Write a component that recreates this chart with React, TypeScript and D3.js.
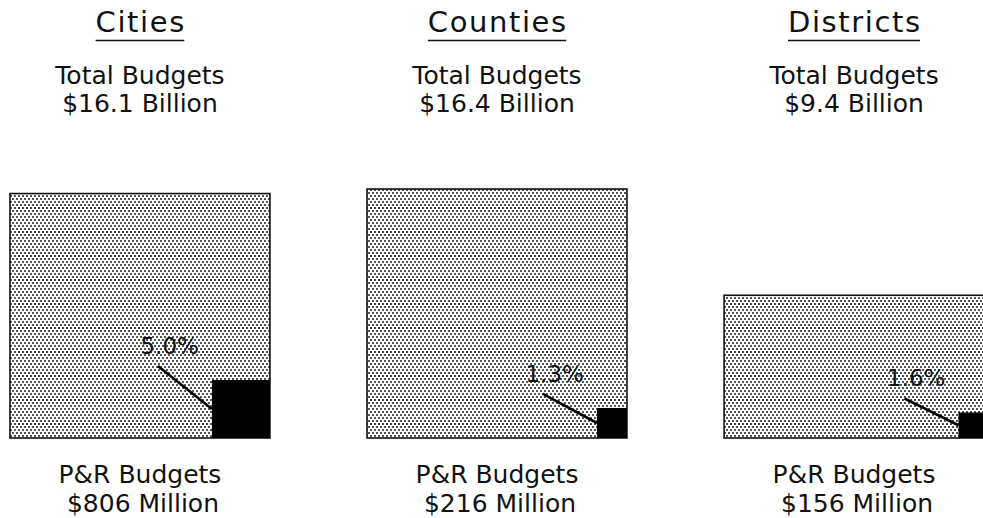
import React, { useEffect, useRef } from "react";
import * as d3 from "d3";

const categories = ["Cities", "Counties", "Districts"];
const totalBudgets = [16.1, 16.4, 9.4]; // $ billions
const totalLabels = ["$16.1 Billion", "$16.4 Billion", "$9.4 Billion"];
const prBudgets = [806, 216, 156]; // $ millions
const prLabels = ["$806 Million", "$216 Million", "$156 Million"];
const percentLabels = ["5.0%", "1.3%", "1.6%"];

const W = 983;
const H = 518;
const FONT = "'DejaVu Sans', 'Liberation Sans', sans-serif";

export default function App() {
  const ref = useRef<SVGSVGElement>(null);

  useEffect(() => {
    const svg = d3.select(ref.current);
    svg.selectAll("*").remove();

    const defs = svg.append("defs");
    const pat = defs
      .append("pattern")
      .attr("id", "halftone")
      .attr("patternUnits", "userSpaceOnUse")
      .attr("width", 4)
      .attr("height", 6);
    pat.append("rect").attr("width", 4).attr("height", 6).attr("fill", "#fff");
    pat.append("rect").attr("x", 0).attr("y", 0).attr("width", 2).attr("height", 2).attr("fill", "#555");
    pat.append("rect").attr("x", 2).attr("y", 3).attr("width", 2).attr("height", 2).attr("fill", "#555");

    const x = d3.scaleBand<string>().domain(categories).range([10, 984]).paddingInner(0.272);
    const h = d3.scaleLinear().domain([0, 16.4]).range([0, 249]);
    const s = d3.scaleSqrt().domain([0, 806]).range([0, 58]);
    const base = 438;

    categories.forEach((cat, i) => {
      const x0 = x(cat)!;
      const bw = x.bandwidth();
      const cx = x0 + bw / 2;
      const g = svg.append("g");

      // Title with underline
      const ls = 1.6;
      const title = g
        .append("text")
        .attr("x", cx + ls / 2)
        .attr("y", 32)
        .attr("text-anchor", "middle")
        .attr("font-family", FONT)
        .attr("font-size", 29)
        .attr("letter-spacing", ls)
        .attr("fill", "#111")
        .text(cat);
      const bb = (title.node() as SVGTextElement).getBBox();
      g.append("line")
        .attr("x1", bb.x)
        .attr("x2", bb.x + bb.width - ls)
        .attr("y1", 40.5)
        .attr("y2", 40.5)
        .attr("stroke", "#111")
        .attr("stroke-width", 1.6);

      g.append("text")
        .attr("x", cx)
        .attr("y", 84)
        .attr("text-anchor", "middle")
        .attr("font-family", FONT)
        .attr("font-size", 25)
        .attr("fill", "#111")
        .text("Total Budgets");
      g.append("text")
        .attr("x", cx)
        .attr("y", 112)
        .attr("text-anchor", "middle")
        .attr("font-family", FONT)
        .attr("font-size", 25)
        .attr("fill", "#111")
        .text(totalLabels[i]);

      // Total budget box
      const bh = h(totalBudgets[i]);
      g.append("rect")
        .attr("x", x0)
        .attr("y", base - bh)
        .attr("width", bw)
        .attr("height", bh)
        .attr("fill", "url(#halftone)")
        .attr("stroke", "#111")
        .attr("stroke-width", 1.6);

      // P&R square
      const side = s(prBudgets[i]);
      const sqLeft = x0 + bw - side;
      const sqTop = base - side;
      g.append("rect")
        .attr("x", sqLeft)
        .attr("y", sqTop)
        .attr("width", side)
        .attr("height", side)
        .attr("fill", "#000");

      // Leader line & percent label
      const lx = sqLeft - 54;
      const ly = sqTop - 14;
      g.append("line")
        .attr("x1", lx)
        .attr("y1", ly)
        .attr("x2", sqLeft)
        .attr("y2", sqTop + side / 2)
        .attr("stroke", "#000")
        .attr("stroke-width", 2.6);
      g.append("text")
        .attr("x", sqLeft - 13)
        .attr("y", ly - 12)
        .attr("text-anchor", "end")
        .attr("font-family", FONT)
        .attr("font-size", 23)
        .attr("fill", "#111")
        .text(percentLabels[i]);

      // Bottom labels
      g.append("text")
        .attr("x", cx)
        .attr("y", 483)
        .attr("text-anchor", "middle")
        .attr("font-family", FONT)
        .attr("font-size", 25)
        .attr("fill", "#111")
        .text("P&R Budgets");
      g.append("text")
        .attr("x", cx + 3)
        .attr("y", 512)
        .attr("text-anchor", "middle")
        .attr("font-family", FONT)
        .attr("font-size", 25)
        .attr("fill", "#111")
        .text(prLabels[i]);
    });
  }, []);

  return (
    <svg
      ref={ref}
      width={W}
      height={H}
      style={{ position: "absolute", left: 0, top: 0, display: "block", background: "#fff", overflow: "hidden" }}
    />
  );
}
